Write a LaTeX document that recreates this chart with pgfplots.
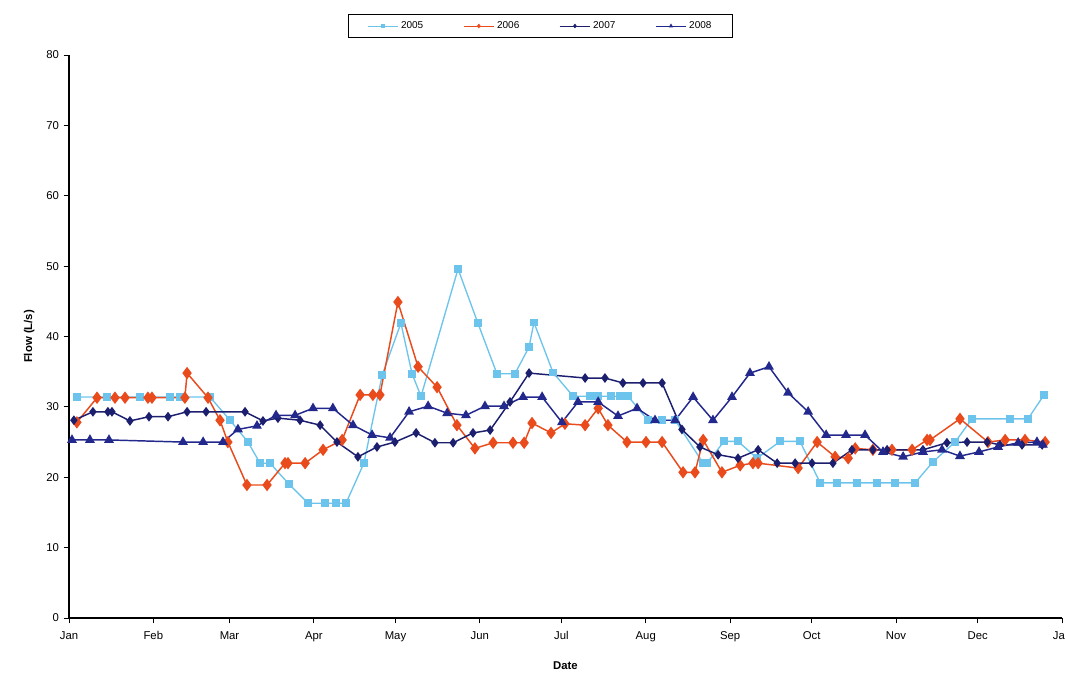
\documentclass[border=0pt]{standalone}
\usepackage{pgfplots}
\pgfplotsset{compat=1.18}
\usepackage{fontspec}
\setmainfont{Liberation Sans}
\definecolor{c05}{HTML}{6CC4EC}
\definecolor{c06}{HTML}{EA4B1C}
\definecolor{c07}{HTML}{1C1F6E}
\definecolor{c08}{HTML}{23288C}
\begin{document}
\begin{tikzpicture}
\begin{axis}[
  at={(0pt,0pt)}, anchor=south west,
  scale only axis, width=744.75pt, height=422.25pt,
  xmin=0, xmax=365, ymin=0, ymax=80,
  xtick={0,31,59,90,120,151,181,212,243,273,304,334,365},
  xticklabels={Jan,Feb,Mar,Apr,May,Jun,Jul,Aug,Sep,Oct,Nov,Dec,Jan},
  ytick={0,10,...,80},
  axis x line*=bottom, axis y line*=left,
  axis line style={line width=1.1pt, -},
  tick align=outside, major tick length=4pt,
  tick style={black, line width=0.6pt},
  /pgf/number format/assume math mode=true,
  ticklabel style={font=\fontsize{8.5}{10}\selectfont},
  xticklabel style={text height=1.6ex, text depth=0.3ex},
  xlabel={\textbf{Date}}, ylabel={\textbf{Flow (L/s)}},
  label style={font=\fontsize{8.5}{10}\selectfont},
  xlabel style={yshift=-8pt},
  ylabel style={yshift=2pt},
  legend columns=4,
  legend style={at={(0.475,1.0515)}, anchor=center, draw=black, line width=0.8pt,
    font=\fontsize{7.5}{9}\selectfont, inner xsep=14pt, inner ysep=3pt,
    /tikz/every even column/.append style={column sep=28pt}},
  legend image code/.code={\draw[#1, line width=0.6pt] (0cm,0cm) -- (0.8cm,0cm);
    \draw[#1, line width=0.6pt, mark size=1.3pt] plot coordinates {(0.4cm,0cm)};},
]
\addplot[c05, line width=1pt, mark=square*, mark size=2.4pt, mark options={fill=c05, draw=c05}] coordinates {
(2.9,31.4) (14.0,31.4) (26.1,31.4) (37.1,31.4) (40.8,31.4) (51.8,31.4)
(59.2,28.1) (65.8,25.0) (70.2,22.0) (73.9,22.0) (80.9,19.0) (87.9,16.3)
(94.1,16.3) (98.1,16.3) (101.8,16.3) (108.4,22.0) (115.1,34.5) (122.0,41.9)
(126.1,34.7) (129.4,31.5) (143.0,49.6) (150.3,41.9) (157.3,34.7) (163.9,34.7)
(169.1,38.5) (170.9,42.0) (177.9,34.9) (185.3,31.5) (191.5,31.5) (194.5,31.5)
(199.2,31.5) (202.5,31.5) (205.5,31.5) (212.8,28.1) (218.0,28.1) (222.8,28.1)
(233.1,22.0) (234.5,22.0) (240.8,25.1) (245.9,25.1) (252.9,22.7) (261.4,25.1)
(268.7,25.1) (276.1,19.2) (282.3,19.2) (289.7,19.2) (297.0,19.2) (303.6,19.2)
(311.0,19.2) (317.6,22.2) (325.7,25.0) (331.9,28.3) (345.9,28.3) (352.5,28.3)
(358.4,31.7)};
\addlegendentry{2005}
\addplot[c06, line width=1.1pt, mark=diamond*, mark size=3.8pt, mark options={fill=c06, draw=c06}] coordinates {
(2.9,27.8) (10.3,31.3) (16.9,31.3) (20.6,31.3) (29.0,31.3) (30.5,31.3)
(42.6,31.3) (43.4,34.8) (51.1,31.3) (55.5,28.1) (58.4,25.0) (65.4,18.9)
(72.8,18.9) (79.4,22.0) (80.5,22.0) (86.8,22.0) (93.4,23.9) (100.4,25.3)
(107.0,31.7) (111.7,31.7) (114.3,31.7) (120.9,44.9) (128.3,35.7) (135.3,32.8)
(142.6,27.4) (149.2,24.1) (155.9,24.9) (163.2,24.9) (167.3,24.9) (170.2,27.7)
(177.2,26.3) (182.3,27.6) (189.7,27.4) (194.5,29.8) (198.1,27.4) (205.1,25.0)
(212.1,25.0) (218.0,25.0) (225.7,20.7) (230.1,20.7) (233.1,25.3) (240.0,20.7)
(246.7,21.7) (251.4,22.0) (253.3,22.0) (268.0,21.3) (275.0,25.0) (281.6,22.9)
(286.4,22.7) (289.0,24.1) (295.5,23.9) (302.5,23.9) (309.9,23.9) (315.4,25.3)
(316.5,25.3) (327.5,28.3) (337.8,25.0) (344.1,25.3) (351.4,25.3) (358.8,25.0)};
\addlegendentry{2006}
\addplot[c07, line width=1.1pt, mark=diamond*, mark size=2.8pt, mark options={fill=c07, draw=c07}] coordinates {
(1.8,28.1) (8.8,29.3) (14.3,29.3) (15.8,29.3) (22.4,28.0) (29.4,28.6)
(36.4,28.6) (43.4,29.3) (50.4,29.3) (64.7,29.3) (71.3,28.0) (76.8,28.4)
(84.9,28.1) (92.3,27.4) (98.5,25.0) (106.2,22.9) (113.2,24.3) (119.8,25.0)
(127.6,26.3) (134.5,24.9) (141.2,24.9) (148.5,26.3) (154.8,26.7) (162.1,30.7)
(169.1,34.8) (189.7,34.1) (197.0,34.1) (203.6,33.4) (211.0,33.4) (218.0,33.4)
(225.3,26.8) (231.9,24.3) (238.6,23.2) (245.9,22.7) (253.3,23.9) (260.3,22.0)
(266.9,22.0) (273.1,22.0) (280.8,22.0) (287.8,23.9) (295.5,23.9) (300.7,23.9)
(313.9,23.9) (322.7,24.9) (330.1,25.0) (337.5,25.0) (342.2,24.6) (350.3,24.6)
(357.7,24.6)};
\addlegendentry{2007}
\addplot[c08, line width=1.1pt, mark=triangle*, mark size=3.2pt, mark options={fill=c08, draw=c08}] coordinates {
(1.1,25.3) (7.7,25.3) (14.7,25.3) (41.9,25.0) (49.3,25.0) (56.6,25.0)
(62.1,26.8) (69.1,27.3) (76.1,28.8) (83.1,28.8) (89.7,29.8) (97.0,29.8)
(104.4,27.4) (111.4,26.0) (118.0,25.6) (125.0,29.3) (132.0,30.1) (139.0,29.1)
(145.9,28.8) (152.9,30.1) (159.9,30.1) (166.9,31.4) (173.9,31.4) (181.2,27.8)
(187.1,30.7) (194.5,30.7) (201.8,28.7) (208.8,29.8) (215.4,28.1) (222.8,28.1)
(229.4,31.4) (236.7,28.1) (243.7,31.4) (250.3,34.8) (257.3,35.7) (264.3,32.0)
(271.7,29.3) (278.3,26.0) (285.6,26.0) (292.6,26.0) (299.2,23.6) (306.6,22.9)
(313.9,23.6) (320.9,23.9) (327.5,23.0) (334.5,23.6) (341.5,24.3) (348.9,24.9)
(355.8,25.0) (358.0,24.6)};
\addlegendentry{2008}
\end{axis}
\pgfresetboundingbox
\path[use as bounding box] (-51.75pt,-47.25pt) rectangle (747pt,463.5pt);
\end{tikzpicture}
\end{document}
